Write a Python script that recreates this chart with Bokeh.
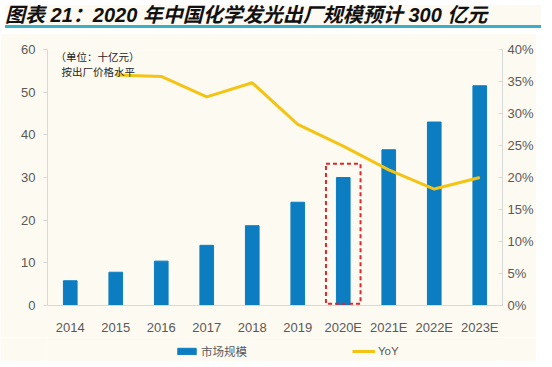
from bokeh.plotting import figure
from bokeh.models import Range1d, LinearAxis, NumeralTickFormatter, Legend, LegendItem, Label, Div, FixedTicker
from bokeh.layouts import column
from bokeh.embed import file_html
from bokeh.resources import INLINE

# ---- data ----
categories = ["2014", "2015", "2016", "2017", "2018", "2019", "2020E", "2021E", "2022E", "2023E"]
market_size = [5.8, 7.8, 10.4, 14.1, 18.7, 24.2, 30.0, 36.5, 43.0, 51.5]
yoy_categories = ["2015", "2016", "2017", "2018", "2019", "2020E", "2021E", "2022E", "2023E"]
yoy_values = [0.360, 0.358, 0.326, 0.348, 0.283, 0.249, 0.212, 0.182, 0.200]
left_ticks = [0, 10, 20, 30, 40, 50, 60]
right_ticks = [0, 0.05, 0.10, 0.15, 0.20, 0.25, 0.30, 0.35, 0.40]
series_names = ["市场规模", "YoY"]
highlight_category = "2020E"
highlight_top = 33.2
highlight_bottom = 0.4

BG = "#FDFAF1"
BAR = "#0C7DC1"
LINE = "#F4C414"
GRAY = "#595959"
AXIS = "#D9D9D9"

title = Div(
    text="图表 21：2020 年中国化学发光出厂规模预计 300 亿元",
    width=536, height=23,
    styles={
        "font-family": "'Liberation Sans', 'Noto Sans CJK SC'",
        "font-weight": "bold",
        "font-style": "italic",
        "font-size": "20px",
        "line-height": "20px",
        "color": "#111111",
        "background-color": BG,
        "border-bottom": "3px solid #3AAFC8",
        "white-space": "nowrap",
    },
)

p = figure(
    x_range=categories, y_range=Range1d(0, 60),
    width=536, height=304,
    output_backend="svg", toolbar_location=None,
    min_border_left=47, min_border_right=30, min_border_top=16, min_border_bottom=28,
    background_fill_color=BG, border_fill_color=BG, outline_line_color=None,
)
p.extra_y_ranges = {"pct": Range1d(0, 0.40)}

bars = p.vbar(x=categories, top=market_size, width=0.3, color=BAR)
line = p.line(x=yoy_categories, y=yoy_values, y_range_name="pct", line_color=LINE, line_width=3)

p.rect(x=[highlight_category], y=[(highlight_top + highlight_bottom) / 2], width=0.76,
       height=[highlight_top - highlight_bottom], fill_color=None, line_color="#E0262A",
       line_width=2, line_dash="4 3")

p.xgrid.visible = False
p.ygrid.visible = False

# left axis
ya = p.yaxis[0]
ya.ticker = FixedTicker(ticks=left_ticks)
ya.axis_line_color = AXIS
ya.major_tick_line_color = AXIS
ya.major_tick_out = 4
ya.major_tick_in = 0
ya.minor_tick_line_color = None
ya.major_label_text_font = "Liberation Sans"
ya.major_label_text_font_size = "13px"
ya.major_label_text_color = GRAY
ya.major_label_standoff = 8

# right axis
ra = LinearAxis(y_range_name="pct", ticker=FixedTicker(ticks=right_ticks),
                formatter=NumeralTickFormatter(format="0%"))
ra.axis_line_color = AXIS
ra.major_tick_line_color = AXIS
ra.major_tick_out = 0
ra.major_tick_in = 4
ra.minor_tick_line_color = None
ra.major_label_text_font = "Liberation Sans"
ra.major_label_text_font_size = "13px"
ra.major_label_text_color = GRAY
ra.major_label_standoff = 5
p.add_layout(ra, "right")

# x axis
xa = p.xaxis[0]
xa.axis_line_color = AXIS
xa.major_tick_line_color = None
xa.minor_tick_line_color = None
xa.major_label_text_font = "Liberation Sans"
xa.major_label_text_font_size = "13px"
xa.major_label_text_color = GRAY
xa.major_label_standoff = 8

# unit notes
p.add_layout(Label(x=8, y=249, x_units="screen", y_units="screen", text="（单位：十亿元）",
                   text_font="Noto Sans CJK SC", text_font_size="10.5px",
                   text_color="#262626", text_baseline="middle"))
p.add_layout(Label(x=14, y=234, x_units="screen", y_units="screen", text="按出厂价格水平",
                   text_font="Noto Sans CJK SC", text_font_size="10.5px",
                   text_color="#262626", text_baseline="middle"))

# legend in its own strip below the chart (sample glyphs sit outside the visible range)
pl = figure(width=536, height=24, x_range=(0, 1), y_range=(0, 1),
            output_backend="svg", toolbar_location=None,
            x_axis_location=None, y_axis_location=None, min_border=0,
            background_fill_color=BG, border_fill_color=BG, outline_line_color=None)
pl.xgrid.visible = False
pl.ygrid.visible = False
lg_bar = pl.vbar(x=[-5], top=[-5], bottom=[-6], width=0.1, color=BAR)
lg_line = pl.line(x=[-5, -4], y=[-5, -5], line_color=LINE, line_width=3)
legend = Legend(
    items=[LegendItem(label=series_names[0], renderers=[lg_bar]),
           LegendItem(label=series_names[1], renderers=[lg_line])],
    orientation="horizontal", location=(128, 2),
    spacing=105, glyph_width=23, glyph_height=8, label_standoff=3,
    label_text_font="Liberation Sans, Noto Sans CJK SC", label_text_font_size="11.5px",
    label_text_color=GRAY, label_height=16,
    background_fill_alpha=0, border_line_color=None, padding=2, margin=0,
)
pl.add_layout(legend)

layout = column(title, p, pl)

open("out.html", "w").write(file_html(layout, INLINE))
